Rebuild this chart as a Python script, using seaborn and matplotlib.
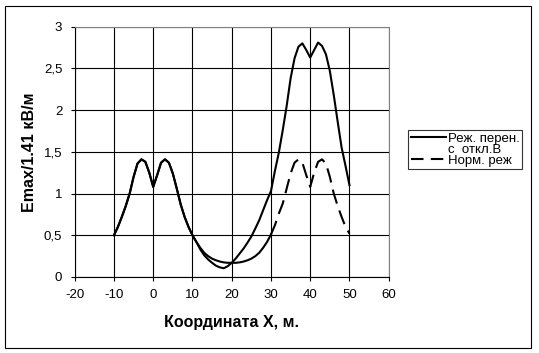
import matplotlib
matplotlib.use("Agg")
import numpy as np
import pandas as pd
import seaborn as sns
import matplotlib.pyplot as plt
from matplotlib.patches import Rectangle
from matplotlib.lines import Line2D

# ---- data ----
x_coord = list(range(-10, 51))

# "Реж. перен. с откл.В" (solid)
e_transfer = [
    0.50, 0.60, 0.72, 0.85, 1.00, 1.20, 1.36, 1.41, 1.38, 1.25,   # -10..-1
    1.08, 1.22, 1.37, 1.41, 1.37, 1.24, 1.06, 0.87, 0.72, 0.60,   # 0..9
    0.50, 0.42, 0.33, 0.26, 0.21, 0.17, 0.135, 0.115, 0.105, 0.13,  # 10..19
    0.17, 0.22, 0.28, 0.34, 0.41, 0.485, 0.58, 0.68, 0.80, 0.92,  # 20..29
    1.03, 1.27, 1.49, 1.76, 2.05, 2.38, 2.62, 2.76, 2.80, 2.72,   # 30..39
    2.63, 2.72, 2.81, 2.77, 2.67, 2.47, 2.18, 1.86, 1.55, 1.33,   # 40..49
    1.10,                                                         # 50
]

# "Норм. реж" (dashed)
e_normal = [
    0.50, 0.60, 0.72, 0.85, 1.00, 1.20, 1.36, 1.41, 1.38, 1.25,   # -10..-1
    1.08, 1.22, 1.37, 1.41, 1.37, 1.24, 1.06, 0.87, 0.72, 0.60,   # 0..9
    0.50, 0.42, 0.35, 0.29, 0.25, 0.22, 0.20, 0.185, 0.175, 0.17,  # 10..19
    0.17, 0.17, 0.175, 0.185, 0.20, 0.22, 0.25, 0.29, 0.35, 0.42,  # 20..29
    0.51, 0.62, 0.76, 0.88, 1.06, 1.24, 1.37, 1.41, 1.37, 1.22,   # 30..39
    1.08, 1.25, 1.38, 1.41, 1.36, 1.20, 1.00, 0.85, 0.72, 0.60,   # 40..49
    0.52,                                                         # 50
]

legend_labels = ["Реж. перен.", "с  откл.В", "Норм. реж"]
x_ticks = [-20, -10, 0, 10, 20, 30, 40, 50, 60]
y_ticks = [0, 0.5, 1, 1.5, 2, 2.5, 3]
y_tick_labels = ["0", "0,5", "1", "1,5", "2", "2,5", "3"]

df = pd.DataFrame({"x": x_coord, "transfer": e_transfer, "normal": e_normal})

plt.rcParams['font.family'] = ['Liberation Sans', 'DejaVu Sans']
plt.rcParams['axes.unicode_minus'] = False

fig = plt.figure(figsize=(5.39, 3.53), dpi=100, facecolor="w")
ax = fig.add_axes([0.1386, 0.2153, 0.5826, 0.7091])

# dashed series: the excel dash pattern only shows up from x=30 on
solid_part = df[df["x"] <= 30]
dash_part = df[df["x"] >= 30]
sns.lineplot(x="x", y="normal", data=solid_part, ax=ax, color="black",
             linewidth=1.5, estimator=None, sort=False)
sns.lineplot(x="x", y="normal", data=dash_part, ax=ax, color="black",
             linewidth=1.5, estimator=None, sort=False,
             linestyle=(0, (7, 3.5)))
sns.lineplot(x="x", y="transfer", data=df, ax=ax, color="black",
             linewidth=1.5, estimator=None, sort=False)

ax.set_xlim(-20, 60)
ax.set_ylim(0, 3)
ax.set_xticks(x_ticks)
ax.set_yticks(y_ticks)
ax.set_yticklabels(y_tick_labels)
ax.tick_params(direction="out", length=3, width=0.8, colors="black",
               labelsize=9.5)
ax.tick_params(axis="x", pad=6)
ax.tick_params(axis="y", pad=6)
ax.grid(True, color="black", linewidth=0.8)
ax.set_axisbelow(True)

for side in ["top", "right"]:
    ax.spines[side].set_color("#808080")
    ax.spines[side].set_linewidth(0.8)
for side in ["left", "bottom"]:
    ax.spines[side].set_color("black")
    ax.spines[side].set_linewidth(0.8)

ax.set_xlabel("Координата X, м.", fontsize=11.5, fontweight="bold", labelpad=10)
ax.set_ylabel("Emax/1.41 кВ/м", fontsize=11.5, fontweight="bold", labelpad=5)

# legend: second text line is an entry without a handle
handles = [
    Line2D([], [], color="black", linewidth=1.5),
    Line2D([], [], color="none"),
    Line2D([], [], color="black", linewidth=1.5, linestyle=(0, (6, 3.5))),
]
leg = fig.legend(handles, legend_labels, loc="upper left",
                 bbox_to_anchor=(408 / 539, 1 - 130 / 353),
                 bbox_transform=fig.transFigure,
                 fontsize=9.5, frameon=True, fancybox=False, shadow=False,
                 handlelength=2.7, handletextpad=0.1, labelspacing=-0.1,
                 borderpad=0.2, borderaxespad=0)
leg.get_frame().set_edgecolor("black")
leg.get_frame().set_linewidth(0.8)

# outer chart border
fig.patches.append(Rectangle((5 / 539, 5.5 / 353), 526 / 539, 342 / 353,
                             transform=fig.transFigure, fill=False,
                             edgecolor="black", linewidth=0.8))

fig.savefig("out.png", dpi=100, facecolor="w")
